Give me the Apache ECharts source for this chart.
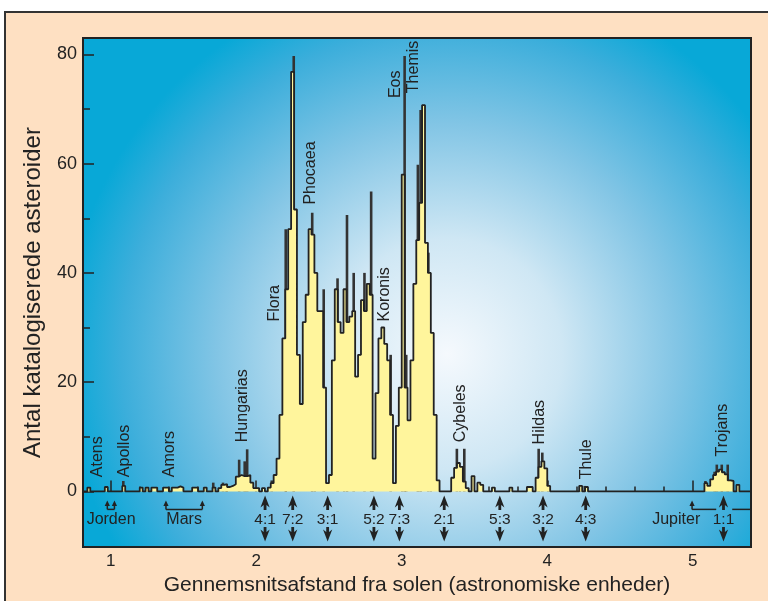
<!DOCTYPE html>
<html><head><meta charset="utf-8">
<script src="https://cdn.jsdelivr.net/npm/echarts@6/dist/echarts.min.js"></script>
<style>
html,body{margin:0;padding:0;background:#fff;overflow:hidden}
#frame{position:absolute;left:4px;top:11px;width:800px;height:700px;background:#fee0c2;border:2px solid #333;box-sizing:border-box}
#c{position:absolute;left:0;top:0;width:768px;height:601px}
</style>
</head><body><div id="frame"></div><div id="c"></div>
<script>
// ---------------- data ----------------
const binWidth = 0.02; // AU per histogram bin
// isolated small bins: [bin start AU, count]
const smallBins = [[0.84,0.7],[0.96,0.8],[1.08,1.0],[1.20,0.7],[1.24,0.7],[1.28,0.7],[1.30,0.7],
  [1.36,0.7],[1.38,0.7],[1.42,0.7],[1.44,0.7],[1.46,0.9],[1.48,0.7],[1.56,0.7],[1.58,0.7],
  [1.64,0.7],[1.70,0.7],[1.74,0.6],[1.76,1.2],[1.78,1.3],[1.80,0.8],[1.82,1.0],
  [1.98,0.6],[2.00,0.6],[2.04,0.6],
  [3.48,2.8],[3.52,1.6],[3.54,1.2],[3.62,0.7],[3.74,0.7],[3.86,0.8],[3.88,0.8],
  [4.22,1.0],[4.26,0.8]];
const hungariaStart = 1.84;
const hungariaCounts = [1.3,2.7,3.0,2.8,2.8,3.0,1.6];
const beltStart = 2.08;
const beltCounts = [0.7,1.5,3,6,14,28,37,48,76.8,51.6,25,16,31,36,48,47,40,33,33,19,1.5,3,
  24,37,31,29,37,31,32,33,21,25,35,33,38,36,6,18,28,30,27,24,14,1.5,12,19,58,19,13,24,38,46,
  52.8,70.7,45.5,40,29,14,2];
const cybeleStart = 3.34;
const cybeleCounts = [2.5,4.3,5.2,4.5,1.8,0.6];
const hildaStart = 3.92;
const hildaCounts = [2.5,4.5,5.5,4.2,1.0];
const trojanStart = 5.08;
const trojanCounts = [1.5,1.0,2.2,3.0,3.6,4.0,3.5,3.1,2.0,1.9,0,1.2];
// dark spikes (second histogram)
const spikeAU  = [1.087,1.705,1.772,1.795,1.883,1.921,1.938,2.107,2.203,2.258,2.385,2.464,2.559,2.624,2.670,2.744,2.790,2.924,3.020,3.031,3.111,3.130,3.183,3.379,3.430,3.941,3.966,4.225,4.258,5.087,5.150,5.165,5.199,5.240];
const spikeTop = [1.9,1.6,1.6,1.4,5.8,5.5,7.7,2.0,48,79.7,51,37,39,50.6,40,40,54.9,25,79.7,25,59.8,69.8,43.7,7.8,7.8,7.8,7.1,1.1,1.0,1.9,3.6,4.9,4.9,4.9];
// resonances
const resonanceNames = ['4:1','7:2','3:1','5:2','7:3','2:1','5:3','3:2','4:3','1:1'];
const resonanceAU = [2.061,2.251,2.491,2.809,2.984,3.292,3.674,3.971,4.264,5.211];
// asteroid group labels
const groupNames = ['Atens','Apollos','Amors','Hungarias','Flora','Phocaea','Koronis','Eos','Themis','Cybeles','Hildas','Thule','Trojans'];
const groupAU    = [0.909,1.094,1.403,1.907,2.127,2.373,2.885,2.960,3.084,3.403,3.948,4.270,5.207];
const groupBase  = [2.6,2.6,2.6,9.0,31.1,52.5,31.1,72.0,72.9,9.0,8.6,2.2,6.4];
// planet orbits (perihelion - aphelion)
const bodyNames = ['Jorden','Mars','Jupiter'];
const bodyPeri = [0.977,1.38,4.995];
const bodyAph  = [1.026,1.63,5.46];
const bodyLabelAU = [1.003,1.505,4.886];
// axis ticks
const yTicks = [0,20,40,60,80];
const yMinor = [10,30,50,70];
const xTicks = [1,2,3,4,5];
const xMinor = [1.2,1.4,1.6,1.8,2.2,2.4,2.6,2.8,3.2,3.4,3.6,3.8,4.2,4.4,4.6,4.8,5.2];

// ---------------- build histogram steps ----------------
const counts = {};
function put(a, v){ counts[Math.round(a/binWidth)] = v; }
smallBins.forEach(b => put(b[0], b[1]));
[[hungariaStart,hungariaCounts],[beltStart,beltCounts],[cybeleStart,cybeleCounts],[hildaStart,hildaCounts],[trojanStart,trojanCounts]]
  .forEach(([s, arr]) => arr.forEach((v, i) => put(s + i*binWidth, v)));
const kMin = Math.round(0.80/binWidth), kMax = Math.round(5.40/binWidth);
const stepData = [];
for (let k = kMin; k < kMax; k++) stepData.push([+(k*binWidth).toFixed(2), counts[k] || 0]);
stepData.push([5.40, 0]);

const FONT = 'Liberation Sans, Arial, Helvetica, sans-serif';
const INK = '#222';
const chart = echarts.init(document.getElementById('c'), null, {renderer:'canvas'});

function arrowUp(x, t, w, h, stemW, stemEnd){
  return [[x,t],[x+w,t+h],[x+stemW,t+h-2.5],[x+stemW,stemEnd],[x-stemW,stemEnd],[x-stemW,t+h-2.5],[x-w,t+h]];
}

const option = {
  animation:false,
  textStyle:{fontFamily:FONT},
  grid:{left:83, top:38, width:668, height:510, show:true, borderColor:INK, borderWidth:2,
    backgroundColor: new echarts.graphic.RadialGradient(0.545, 0.62, 0.75, [
      {offset:0, color:'#f5f9fd'},{offset:0.3, color:'#cfe7f4'},{offset:0.6, color:'#82c5e5'},
      {offset:0.85, color:'#3caedb'},{offset:1, color:'#08a8d7'}])},
  xAxis:[
    {type:'value', min:0.81, max:5.40, position:'bottom', axisLine:{show:false}, splitLine:{show:false},
     axisTick:{inside:true, length:11, customValues:xTicks, lineStyle:{color:INK, width:1.5}},
     axisLabel:{customValues:xTicks, fontSize:17, color:INK, margin:6, fontFamily:FONT},
     name:'Gennemsnitsafstand fra solen (astronomiske enheder)', nameLocation:'middle', nameGap:26,
     nameTextStyle:{fontSize:21, color:INK, fontFamily:FONT}},
    {type:'value', min:0.81, max:5.40, position:'bottom', axisLine:{show:false}, splitLine:{show:false},
     axisTick:{inside:true, length:5, customValues:xMinor, lineStyle:{color:INK, width:1.5}},
     axisLabel:{show:false}}
  ],
  yAxis:[
    {type:'value', min:-10.2, max:83.0, position:'left', axisLine:{show:false}, splitLine:{show:false},
     axisTick:{inside:true, length:11, customValues:yTicks, lineStyle:{color:INK, width:1.5}},
     axisLabel:{customValues:yTicks, fontSize:18, color:INK, margin:6, fontFamily:FONT},
     name:'Antal katalogiserede asteroider', nameLocation:'middle', nameGap:38,
     nameTextStyle:{fontSize:24, color:INK, fontFamily:FONT}},
    {type:'value', min:-10.2, max:83.0, position:'left', axisLine:{show:false}, splitLine:{show:false},
     axisTick:{inside:true, length:7, customValues:yMinor, lineStyle:{color:INK, width:1.5}},
     axisLabel:{show:false}}
  ],
  series:[
    {type:'custom', name:'spikes', z:1, clip:true, xAxisIndex:0, yAxisIndex:0,
     data: spikeAU.map((a,i)=>[a, spikeTop[i]]), encode:{x:0, y:1},
     renderItem:(params, api)=>{
       const p0 = api.coord([api.value(0), 0]);
       const p1 = api.coord([api.value(0), api.value(1)]);
       return {type:'rect', shape:{x:p0[0]-1.3, y:p1[1], width:2.6, height:p0[1]-p1[1]}, style:{fill:'#333'}};
     }},
    {type:'line', name:'hist', z:2, step:'end', symbol:'none', data:stepData, xAxisIndex:0, yAxisIndex:0,
     lineStyle:{color:INK, width:1.8}, areaStyle:{color:'#fff59c', opacity:1}},
    {type:'custom', name:'resonances', z:3, data: resonanceAU.map(a=>[a, 0]), encode:{x:0, y:1},
     renderItem:(params, api)=>{
       const p = api.coord([api.value(0), 0]); const x = p[0], y = p[1];
       const up = arrowUp(x, y+4, 4.6, 12, 1.4, y+18.5);
       const down = up.map(q=>[q[0], 2*y+54-q[1]]);
       return {type:'group', children:[
         {type:'polygon', shape:{points:up}, style:{fill:INK}},
         {type:'polygon', shape:{points:down}, style:{fill:INK}},
         {type:'text', x:x, y:y+28, style:{text:resonanceNames[params.dataIndex], fontSize:15.5, fill:INK,
           align:'center', verticalAlign:'middle', fontFamily:FONT}}
       ]};
     }},
    {type:'custom', name:'orbits', z:3, clip:true, data: bodyPeri.map((a,i)=>[a, bodyAph[i], bodyLabelAU[i]]), encode:{x:[0,1]},
     renderItem:(params, api)=>{
       const y0 = api.coord([0.81, 0])[1];
       const xs = api.coord([api.value(0), 0])[0];
       const xe = api.coord([api.value(1), 0])[0];
       const xl = api.coord([api.value(2), 0])[0];
       const ly = y0 + 18;
       const children = [];
       let segs = [[xs, xe]];
       resonanceAU.forEach(r=>{
         if (r > api.value(0) && r < api.value(1)) {
           const g0 = api.coord([r-0.05,0])[0], g1 = api.coord([r+0.06,0])[0];
           segs = segs.flatMap(s => (g0 > s[0] && g1 < s[1]) ? [[s[0], g0],[g1, s[1]]] : [s]);
         }
       });
       segs.forEach(s=>children.push({type:'line', shape:{x1:s[0], y1:ly, x2:s[1], y2:ly}, style:{stroke:INK, lineWidth:1.5}}));
       [xs, xe].forEach(x=>{
         children.push({type:'line', shape:{x1:x, y1:ly, x2:x, y2:y0+13}, style:{stroke:INK, lineWidth:1.5}});
         children.push({type:'polygon', shape:{points:[[x, y0+9],[x+2.6, y0+14.5],[x-2.6, y0+14.5]]}, style:{fill:INK}});
       });
       children.push({type:'text', x:xl, y:y0+28, style:{text:bodyNames[params.dataIndex], fontSize:16, fill:INK,
         align:'center', verticalAlign:'middle', fontFamily:FONT}});
       return {type:'group', children};
     }},
    {type:'custom', name:'groups', z:3, data: groupAU.map((a,i)=>[a, groupBase[i]]), encode:{x:0, y:1},
     renderItem:(params, api)=>{
       const p = api.coord([api.value(0), api.value(1)]);
       return {type:'text', x:p[0], y:p[1], rotation:Math.PI/2,
         style:{text:groupNames[params.dataIndex], fontSize:16, fill:INK, align:'left', verticalAlign:'middle', fontFamily:FONT}};
     }}
  ]
};
chart.setOption(option);
</script>
</body></html>
